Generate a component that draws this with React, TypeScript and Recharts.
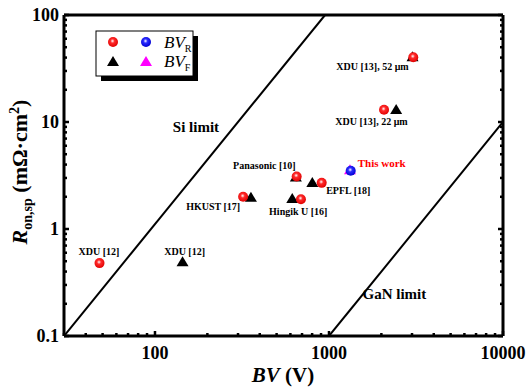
import { ScatterChart, Scatter, XAxis, YAxis } from "recharts";

// ---- data ----
const refBvR = [
  { x: 48, y: 0.48 },
  { x: 321, y: 2.0 },
  { x: 652, y: 3.1 },
  { x: 690, y: 1.9 },
  { x: 908, y: 2.7 },
  { x: 2072, y: 13 },
  { x: 3050, y: 40.3 },
];
const refBvF = [
  { x: 144, y: 0.5 },
  { x: 356, y: 2.0 },
  { x: 645, y: 3.1 },
  { x: 615, y: 1.95 },
  { x: 802, y: 2.75 },
  { x: 2432, y: 13.2 },
  { x: 3020, y: 41.2 },
];
const thisWorkBvR = [{ x: 1333, y: 3.5 }];
const thisWorkBvF = [{ x: 1320, y: 3.62 }];

const siLimit = [
  { x: 30, y: 0.1 },
  { x: 949, y: 100 },
];
const ganLimit = [
  { x: 1000, y: 0.1 },
  { x: 10000, y: 10 },
];

const pointLabels = [
  { text: "XDU [12]", x: 47.6, y: 0.61 },
  { text: "XDU [12]", x: 148, y: 0.61 },
  { text: "HKUST [17]", x: 216, y: 1.62 },
  { text: "Panasonic [10]", x: 425, y: 3.96 },
  { text: "EPFL [18]", x: 1291, y: 2.31 },
  { text: "Hingik U [16]", x: 666, y: 1.45 },
  { text: "This work", x: 2009, y: 4.17, red: true },
  { text: "XDU [13], 22 μm", x: 1755, y: 10.2 },
  { text: "XDU [13], 52 μm", x: 1778, y: 32.9 },
];
const limitLabels = [
  { text: "Si limit", x: 172, y: 9.0 },
  { text: "GaN limit", x: 2375, y: 0.245 },
];

const xTicks = [
  30, 40, 50, 60, 70, 80, 90, 100, 200, 300, 400, 500, 600, 700, 800, 900, 1000,
  2000, 3000, 4000, 5000, 6000, 7000, 8000, 9000, 10000,
];
const xLabels = [100, 1000, 10000];
const yTicks = [
  0.1, 0.2, 0.3, 0.4, 0.5, 0.6, 0.7, 0.8, 0.9, 1, 2, 3, 4, 5, 6, 7, 8, 9, 10, 20,
  30, 40, 50, 60, 70, 80, 90, 100,
];
const yLabels = [0.1, 1, 10, 100];

// ---- layout ----
const W = 529;
const H = 390;
const LEFT = 64;
const RIGHT = 503;
const TOP = 15;
const BOTTOM = 336;
const FONT = "'Liberation Serif', 'Times New Roman', serif";
const MAJOR = 5;
const MINOR = 3;

const Sphere = ({ cx, cy, fill }: any) => (
  <circle cx={cx} cy={cy} r={5} fill={fill} />
);

const Tri = ({ cx, cy, color }: any) => (
  <polygon
    points={`${cx},${cy - 5} ${cx - 6},${cy + 5} ${cx + 6},${cy + 5}`}
    fill={color}
  />
);

const BottomTick = ({ x, payload }: any) => {
  const major = xLabels.includes(payload.value);
  return (
    <g>
      <line x1={x} x2={x} y1={BOTTOM} y2={BOTTOM - (major ? MAJOR : MINOR)} stroke="#000" strokeWidth={2.5} />
      {major && (
        <text x={x} y={BOTTOM + 23} textAnchor="middle" fontFamily={FONT} fontWeight="bold" fontSize={18} fill="#000">
          {payload.value}
        </text>
      )}
    </g>
  );
};

const TopTick = ({ x, payload }: any) => {
  const major = xLabels.includes(payload.value);
  return <line x1={x} x2={x} y1={TOP} y2={TOP + (major ? MAJOR : MINOR)} stroke="#000" strokeWidth={2.5} />;
};

const LeftTick = ({ y, payload }: any) => {
  const major = yLabels.includes(payload.value);
  return (
    <g>
      <line x1={LEFT} x2={LEFT + (major ? MAJOR : MINOR)} y1={y} y2={y} stroke="#000" strokeWidth={2.5} />
      {major && (
        <text x={LEFT - 5} y={y + 6} textAnchor="end" fontFamily={FONT} fontWeight="bold" fontSize={18} fill="#000">
          {payload.value}
        </text>
      )}
    </g>
  );
};

const RightTick = ({ y, payload }: any) => {
  const major = yLabels.includes(payload.value);
  return <line x1={RIGHT} x2={RIGHT - (major ? MAJOR : MINOR)} y1={y} y2={y} stroke="#000" strokeWidth={2.5} />;
};

const PointLabel = ({ cx, cy, payload }: any) => (
  <text
    x={cx}
    y={cy}
    textAnchor="middle"
    dominantBaseline="central"
    fontFamily={FONT}
    fontWeight="bold"
    fontSize={payload.red ? 11 : 10}
    fill={payload.red ? "#ff0000" : "#000"}
  >
    {payload.text}
  </text>
);

const LimitLabel = ({ cx, cy, payload }: any) => (
  <text x={cx} y={cy} textAnchor="middle" dominantBaseline="central" fontFamily={FONT} fontWeight="bold" fontSize={15} fill="#000">
    {payload.text}
  </text>
);

const Nothing = () => <g />;

const axisLine = { stroke: "#000", strokeWidth: 3 };

export default function App() {
  return (
    <div style={{ position: "absolute", left: 0, top: 0, width: W, height: H, background: "#fff" }}>
      <svg width={0} height={0} style={{ position: "absolute" }}>
        <defs>
          <radialGradient id="redBall" cx="45%" cy="40%" r="60%">
            <stop offset="0%" stopColor="#ffffff" />
            <stop offset="35%" stopColor="#ff2a2a" />
            <stop offset="100%" stopColor="#e00000" />
          </radialGradient>
          <radialGradient id="blueBall" cx="45%" cy="40%" r="60%">
            <stop offset="0%" stopColor="#ffffff" />
            <stop offset="35%" stopColor="#2a2aff" />
            <stop offset="100%" stopColor="#0000d0" />
          </radialGradient>
        </defs>
      </svg>
      <ScatterChart
        width={W}
        height={H}
        margin={{ top: TOP - 1, right: W - RIGHT - 1, bottom: H - BOTTOM - 1, left: LEFT - 1 }}
      >
        <XAxis
          xAxisId="b"
          dataKey="x"
          type="number"
          scale="log"
          domain={[30, 10000]}
          allowDataOverflow
          ticks={xTicks}
          interval={0}
          height={1}
          tickLine={false}
          tick={<BottomTick />}
          axisLine={axisLine}
        />
        <XAxis
          xAxisId="t"
          orientation="top"
          type="number"
          scale="log"
          domain={[30, 10000]}
          allowDataOverflow
          ticks={xTicks}
          interval={0}
          height={1}
          tickLine={false}
          tick={<TopTick />}
          axisLine={axisLine}
        />
        <YAxis
          yAxisId="l"
          dataKey="y"
          type="number"
          scale="log"
          domain={[0.1, 100]}
          allowDataOverflow
          ticks={yTicks}
          interval={0}
          width={1}
          tickLine={false}
          tick={<LeftTick />}
          axisLine={axisLine}
        />
        <YAxis
          yAxisId="r"
          orientation="right"
          type="number"
          scale="log"
          domain={[0.1, 100]}
          allowDataOverflow
          ticks={yTicks}
          interval={0}
          width={1}
          tickLine={false}
          tick={<RightTick />}
          axisLine={axisLine}
        />
        <Scatter xAxisId="b" yAxisId="l" data={siLimit} line={{ stroke: "#000", strokeWidth: 2 }} shape={<Nothing />} isAnimationActive={false} />
        <Scatter xAxisId="b" yAxisId="l" data={ganLimit} line={{ stroke: "#000", strokeWidth: 2 }} shape={<Nothing />} isAnimationActive={false} />
        <Scatter xAxisId="b" yAxisId="l" data={refBvF} shape={<Tri color="#000" />} isAnimationActive={false} />
        <Scatter xAxisId="b" yAxisId="l" data={thisWorkBvF} shape={<Tri color="#ff00ff" />} isAnimationActive={false} />
        <Scatter xAxisId="b" yAxisId="l" data={refBvR} shape={<Sphere fill="url(#redBall)" />} isAnimationActive={false} />
        <Scatter xAxisId="b" yAxisId="l" data={thisWorkBvR} shape={<Sphere fill="url(#blueBall)" />} isAnimationActive={false} />
        <Scatter xAxisId="b" yAxisId="l" data={pointLabels} shape={<PointLabel />} isAnimationActive={false} />
        <Scatter xAxisId="b" yAxisId="l" data={limitLabels} shape={<LimitLabel />} isAnimationActive={false} />
      </ScatterChart>

      {/* legend box and axis titles */}
      <svg width={W} height={H} style={{ position: "absolute", left: 0, top: 0, pointerEvents: "none" }}>
        <rect x={101} y={36} width={97} height={45} fill="#000" />
        <rect x={96} y={31} width={97} height={45} fill="#fff" stroke="#000" strokeWidth={1} />
        <circle cx={113} cy={42} r={5} fill="url(#redBall)" />
        <circle cx={146} cy={42} r={5} fill="url(#blueBall)" />
        <polygon points="113,56 107,66 119,66" fill="#000" />
        <polygon points="146,56 140,66 152,66" fill="#ff00ff" />
        <text x={164} y={48} fontFamily={FONT} fontStyle="italic" fontSize={17} fill="#000">
          BV<tspan fontStyle="normal" fontSize={10} dy={4}>R</tspan>
        </text>
        <text x={164} y={67} fontFamily={FONT} fontStyle="italic" fontSize={17} fill="#000">
          BV<tspan fontStyle="normal" fontSize={10} dy={4}>F</tspan>
        </text>

        <text x={283} y={382} textAnchor="middle" fontFamily={FONT} fontWeight="bold" fontSize={21} fill="#000">
          <tspan fontStyle="italic">BV</tspan> (V)
        </text>

        <text
          transform="translate(27,172) rotate(-90)"
          textAnchor="middle"
          fontFamily={FONT}
          fontWeight="bold"
          fontSize={22}
          fill="#000"
        >
          <tspan fontStyle="italic">R</tspan>
          <tspan fontSize={14} dy={5}>on,sp</tspan>
          <tspan dy={-5}> (mΩ·cm</tspan>
          <tspan fontSize={14} dy={-8}>2</tspan>
          <tspan dy={8}>)</tspan>
        </text>
      </svg>
    </div>
  );
}
